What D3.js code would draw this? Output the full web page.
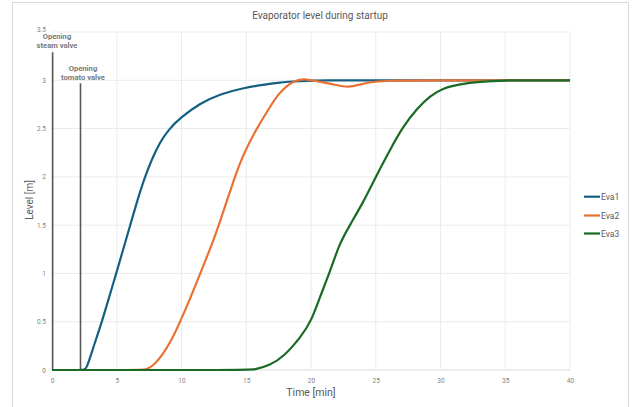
<!DOCTYPE html>
<html>
<head>
<meta charset="utf-8">
<script src="https://cdn.jsdelivr.net/npm/d3@7"></script>
<style>
  body { margin: 0; background: #fff; }
  text { font-family: Roboto, "Open Sans", sans-serif; }
</style>
</head>
<body>
<svg id="chart" width="632" height="407"></svg>
<script>
// values
const eva1Time  = [0, 2.4, 2.65, 3.2, 3.86, 4.4, 4.96, 5.5, 6.04, 6.6, 7.12, 7.7, 8.3, 9.0, 9.9, 11.4, 13.0, 14.8, 16.1, 17.6, 19.0, 21, 25, 30, 35, 40];
const eva1Level = [0, 0, 0, 0.24, 0.5, 0.75, 1.0, 1.25, 1.5, 1.76, 1.98, 2.18, 2.35, 2.49, 2.61, 2.76, 2.86, 2.92, 2.95, 2.98, 2.99, 3.0, 3.0, 3.0, 3.0, 3.0];

const eva2Time  = [0, 6.8, 7.2, 7.8, 8.5, 9.2, 9.9, 10.7, 11.45, 12.2, 12.9, 14.1, 14.8, 15.8, 16.85, 17.5, 18.1, 18.7, 19.4, 20.45, 21.7, 22.9, 24.05, 25.6, 30, 35, 40];
const eva2Level = [0, 0, 0, 0.04, 0.15, 0.3, 0.5, 0.75, 1.0, 1.25, 1.5, 2.0, 2.24, 2.5, 2.73, 2.86, 2.94, 2.99, 3.02, 2.99, 2.96, 2.92, 2.97, 3.0, 3.0, 3.0, 3.0];

const eva3Time  = [0, 15.0, 15.6, 16.85, 17.9, 19.2, 20, 20.7, 21.5, 22.2, 23.0, 24.05, 25, 26.1, 27.1, 28.2, 29.2, 30.2, 31.5, 33, 35, 37, 40];
const eva3Level = [0, 0, 0, 0.05, 0.14, 0.34, 0.5, 0.76, 1.03, 1.31, 1.5, 1.74, 2.0, 2.28, 2.52, 2.71, 2.84, 2.92, 2.96, 2.985, 3.0, 3.0, 3.0];

const seriesNames = ["Eva1", "Eva2", "Eva3"];
const seriesColors = ["#156082", "#E97132", "#196B24"];

const xTicks = [0, 5, 10, 15, 20, 25, 30, 35, 40];
const yTicks = [0, 0.5, 1, 1.5, 2, 2.5, 3, 3.5];

const valveTimes = [0.05, 2.2];
const valveTops = [3.29, 2.97];
const valveLabels = [["Opening", "steam valve"], ["Opening", "tomato valve"]];

const width = 632, height = 407;
const margin = { top: 32, right: 62, bottom: 37, left: 52 };
const innerW = width - margin.left - margin.right;
const innerH = height - margin.top - margin.bottom;

const svg = d3.select("#chart");

// chart area border
svg.append("rect")
  .attr("x", 12.5).attr("y", 2.5)
  .attr("width", 616).attr("height", 410)
  .attr("fill", "#fff")
  .attr("stroke", "#d9d9d9")
  .attr("stroke-width", 1);

const x = d3.scaleLinear().domain([0, 40]).range([margin.left, margin.left + innerW]);
const y = d3.scaleLinear().domain([0, 3.5]).range([margin.top + innerH, margin.top]);

// gridlines
const grid = svg.append("g").attr("class", "grid");
grid.selectAll("line.h")
  .data(yTicks)
  .join("line")
  .attr("class", "h")
  .attr("x1", x(0)).attr("x2", x(40))
  .attr("y1", d => y(d)).attr("y2", d => y(d))
  .attr("stroke", d => d === 0 ? "#d9d9d9" : "#ebebeb")
  .attr("stroke-width", 1);
grid.selectAll("line.v")
  .data(xTicks)
  .join("line")
  .attr("class", "v")
  .attr("x1", d => x(d)).attr("x2", d => x(d))
  .attr("y1", y(0)).attr("y2", y(3.5))
  .attr("stroke", "#ebebeb")
  .attr("stroke-width", 1);

// axes (labels only)
const xAxis = svg.append("g")
  .attr("transform", `translate(0, ${y(0)})`)
  .call(d3.axisBottom(x).tickValues(xTicks).tickSize(0).tickPadding(8));
const yAxis = svg.append("g")
  .attr("transform", `translate(${x(0)}, 0)`)
  .call(d3.axisLeft(y).tickValues(yTicks).tickSize(0).tickPadding(6).tickFormat(d3.format("")));
[xAxis, yAxis].forEach(a => {
  a.select(".domain").remove();
  a.selectAll("text")
    .attr("fill", "#7f7f7f")
    .attr("font-size", 6.5)
    .style("font-family", "Roboto, sans-serif");
});
// the top tick label sits just above the steam-valve note
yAxis.selectAll(".tick").filter(d => d === 3.5).select("text").attr("dy", "-0.1em");

// valve markers
const valves = svg.append("g").attr("class", "valves");
valveTimes.forEach((t, i) => {
  valves.append("line")
    .attr("x1", x(t)).attr("x2", x(t))
    .attr("y1", y(valveTops[i])).attr("y2", y(0))
    .attr("stroke", "#595959")
    .attr("stroke-width", 1.6);
});

// series
const line = d3.line()
  .x(d => x(d[0]))
  .y(d => y(d[1]))
  .curve(d3.curveBasis);

const series = [
  d3.zip(eva1Time, eva1Level),
  d3.zip(eva2Time, eva2Level),
  d3.zip(eva3Time, eva3Level)
];

svg.append("g").selectAll("path")
  .data(series)
  .join("path")
  .attr("d", d => line(d))
  .attr("fill", "none")
  .attr("stroke", (d, i) => seriesColors[i])
  .attr("stroke-width", 2.2)
  .attr("stroke-linejoin", "round");

// valve labels
const labelX = [57, 83];
const labelY = [39, 71];
valveLabels.forEach((lines, i) => {
  const tx = svg.append("text")
    .attr("text-anchor", "middle")
    .attr("font-size", 7.6)
    .attr("font-weight", "bold")
    .attr("fill", "#7a7a7a");
  lines.forEach((s, j) => {
    tx.append("tspan")
      .attr("x", labelX[i])
      .attr("y", labelY[i] + j * 9)
      .text(s);
  });
});

// title
svg.append("text")
  .attr("x", 320).attr("y", 19)
  .attr("text-anchor", "middle")
  .attr("font-size", 10)
  .attr("fill", "#595959")
  .text("Evaporator level during startup");

// axis titles
svg.append("text")
  .attr("x", 311).attr("y", 396)
  .attr("text-anchor", "middle")
  .attr("font-size", 10.5)
  .attr("fill", "#595959")
  .text("Time [min]");
svg.append("text")
  .attr("transform", "translate(33, 200) rotate(-90)")
  .attr("text-anchor", "middle")
  .attr("font-size", 10)
  .attr("fill", "#595959")
  .text("Level [m]");

// legend
const legend = svg.append("g").attr("class", "legend");
const legendY = [196.7, 215.5, 233.5];
seriesNames.forEach((name, i) => {
  legend.append("line")
    .attr("x1", 584).attr("x2", 600)
    .attr("y1", legendY[i]).attr("y2", legendY[i])
    .attr("stroke", seriesColors[i])
    .attr("stroke-width", 2.2);
  legend.append("text")
    .attr("x", 601).attr("y", legendY[i] + 3.2)
    .attr("font-size", 8.5)
    .attr("fill", "#595959")
    .text(name);
});
</script>
</body>
</html>
